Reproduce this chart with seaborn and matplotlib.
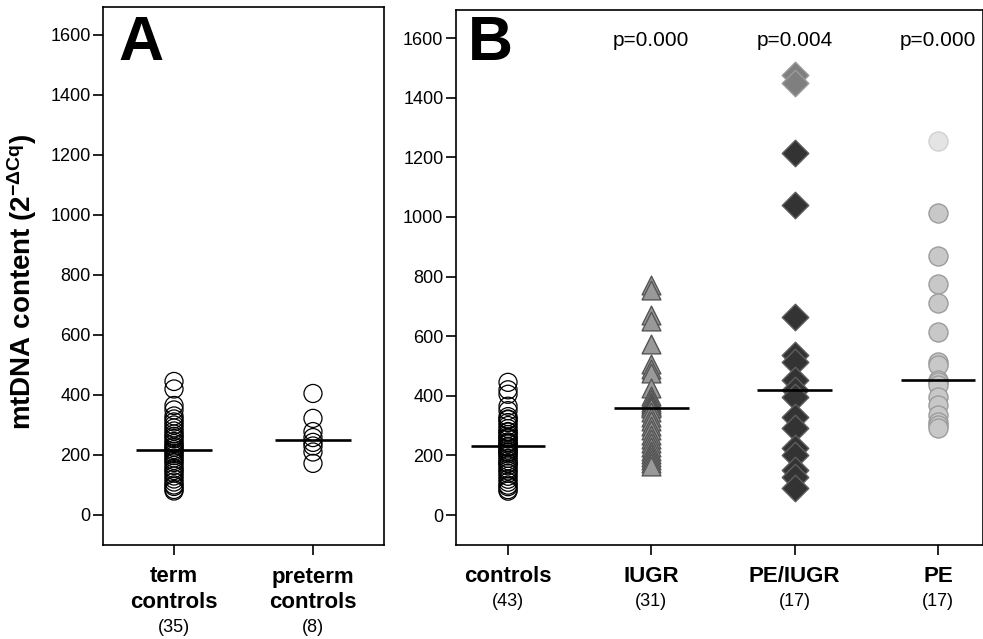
import numpy as np
import pandas as pd
import matplotlib
matplotlib.use("Agg")
import matplotlib.pyplot as plt
import matplotlib.transforms as mtransforms
import seaborn as sns

# ---------------- data ----------------
term_controls = [445, 420, 365, 350, 330, 320, 310, 300, 290, 280,
                 270, 262, 255, 245, 238, 230, 225, 218, 212, 205,
                 198, 190, 182, 175, 165, 155, 148, 140, 130, 120,
                 110, 100, 95, 85, 80]
preterm_controls = [405, 322, 278, 258, 242, 230, 210, 172]
iugr = [770, 755, 670, 650, 575, 505, 490, 475, 425, 400,
        390, 380, 372, 365, 362, 360, 345, 330, 315, 300,
        285, 270, 255, 240, 228, 215, 205, 195, 185, 175, 165]
pe_iugr_extreme = [1476, 1449]
pe_iugr = [1214, 1040, 665, 537, 514, 453, 419, 397, 330, 291, 224, 201, 151, 129, 90]
pe_extreme = [1253]
pe = [1012, 869, 774, 712, 613, 514, 503, 453, 445, 436, 397, 369, 336, 313, 302, 291]

cats_a = ["term\ncontrols", "preterm\ncontrols"]
counts_a = ["(35)", "(8)"]
cats_b = ["controls", "IUGR", "PE/IUGR", "PE"]
counts_b = ["(43)", "(31)", "(17)", "(17)"]
p_values = ["p=0.000", "p=0.004", "p=0.000"]
yticks = [0, 200, 400, 600, 800, 1000, 1200, 1400, 1600]
ylabel = r"mtDNA content (2$^{\mathbf{-\Delta Cq}}$)"

# ---------------- style ----------------
sns.set_style("ticks")
plt.rcParams["font.family"] = ["Liberation Sans", "DejaVu Sans"]
plt.rcParams["mathtext.fontset"] = "custom"
plt.rcParams["mathtext.rm"] = "Liberation Sans"
plt.rcParams["mathtext.bf"] = "Liberation Sans:bold"
plt.rcParams["mathtext.it"] = "Liberation Sans:italic"
for key in ("text.color", "axes.labelcolor", "xtick.color", "ytick.color",
            "axes.edgecolor"):
    plt.rcParams[key] = "black"

W, H = 983, 639
fig = plt.figure(figsize=(W / 100, H / 100), dpi=100)


def fx(px):
    return px / W


def fy(py):
    return 1 - py / H


axA = fig.add_axes([fx(103), fy(545), fx(384) - fx(103), fy(7) - fy(545)])
axB = fig.add_axes([fx(456), fy(545), fx(983) - fx(456), fy(10) - fy(545)])


def strip(ax, values, cat, order, marker, size, face, edge, lw):
    df = pd.DataFrame({"group": [cat] * len(values), "value": values})
    n_before = len(ax.collections)
    sns.stripplot(data=df, x="group", y="value", order=order, jitter=False,
                  marker=marker, size=size, color=face, edgecolor=edge,
                  linewidth=lw, ax=ax, zorder=3)
    for coll in ax.collections[n_before:]:
        coll.set_facecolor(face)
        coll.set_edgecolor(edge)
        coll.set_linewidth(lw)


def median_line(ax, values, pos, half):
    m = np.median(values)
    ax.hlines(m, pos - half, pos + half, color="black", lw=1.9, zorder=5)


# ---------- Panel A ----------
strip(axA, term_controls, cats_a[0], cats_a, "o", 13, "none", "black", 0.9)
strip(axA, preterm_controls, cats_a[1], cats_a, "o", 13, "none", "black", 0.9)
median_line(axA, term_controls, 0, 0.27)
median_line(axA, preterm_controls, 1, 0.27)
axA.set_xlim(-0.511, 1.511)
axA.set_ylim(-100, 1693)

# ---------- Panel B ----------
controls_all = term_controls + preterm_controls
strip(axB, controls_all, cats_b[0], cats_b, "o", 13, "none", "black", 0.9)
strip(axB, iugr, cats_b[1], cats_b, "^", 13.5, "#999999", "#555555", 1.0)
strip(axB, pe_iugr_extreme, cats_b[2], cats_b, "D", 13.5, "#7f7f7f", "#9a9a9a", 1.0)
strip(axB, pe_iugr, cats_b[2], cats_b, "D", 13.5, "#333333", "#5e5e5e", 1.0)
strip(axB, pe_extreme, cats_b[3], cats_b, "o", 13.7, "#e4e4e4", "#d0d0d0", 1.0)
strip(axB, pe, cats_b[3], cats_b, "o", 13.7, "#c8c8c8", "#9c9c9c", 1.0)
median_line(axB, controls_all, 0, 0.26)
median_line(axB, iugr, 1, 0.26)
median_line(axB, pe_iugr_extreme + pe_iugr, 2, 0.26)
median_line(axB, pe_extreme + pe, 3, 0.26)
axB.set_xlim(-0.363, 3.314)
axB.set_ylim(-100.6, 1694)

for ax in (axA, axB):
    ax.set_yticks(yticks)
    ax.set_yticklabels([str(v) for v in yticks], fontsize=13)
    ax.set_xlabel("")
    ax.set_ylabel("")
    ax.tick_params(axis="both", direction="out", length=7, width=1.2,
                   color="black", labelcolor="black", pad=2)
    for s in ax.spines.values():
        s.set_visible(True)
        s.set_linewidth(1.2)
        s.set_color("black")

axA.set_xticks([0, 1])
axA.set_xticklabels([])
axB.set_xticks([0, 1, 2, 3])
axB.set_xticklabels([])

# category labels
for ax, cats, counts in ((axA, cats_a, counts_a), (axB, cats_b, counts_b)):
    tr = mtransforms.blended_transform_factory(ax.transData, fig.transFigure)
    for i, (c, n) in enumerate(zip(cats, counts)):
        lines = c.split("\n")
        y0 = 577
        for j, line in enumerate(lines):
            ax.text(i, fy(y0 + 26 * j), line, transform=tr, ha="center",
                    va="center", fontsize=16, fontweight="bold")
        yc = y0 + 26 * (len(lines) - 1) + 24
        ax.text(i, fy(yc), n, transform=tr, ha="center", va="center",
                fontsize=13)

# panel letters
fig.text(fx(141), fy(43), "A", fontsize=45, fontweight="bold",
         ha="center", va="center")
fig.text(fx(490), fy(44), "B", fontsize=45, fontweight="bold",
         ha="center", va="center")

# p-values
trB = mtransforms.blended_transform_factory(axB.transData, fig.transFigure)
for i, p in enumerate(p_values):
    axB.text(i + 1, fy(40), p, transform=trB, ha="center", va="center",
             fontsize=15)

# y label
fig.text(fx(22), fy(282), ylabel, rotation=90, fontsize=20,
         fontweight="bold", ha="center", va="center")

fig.savefig("out.png", dpi=100)
